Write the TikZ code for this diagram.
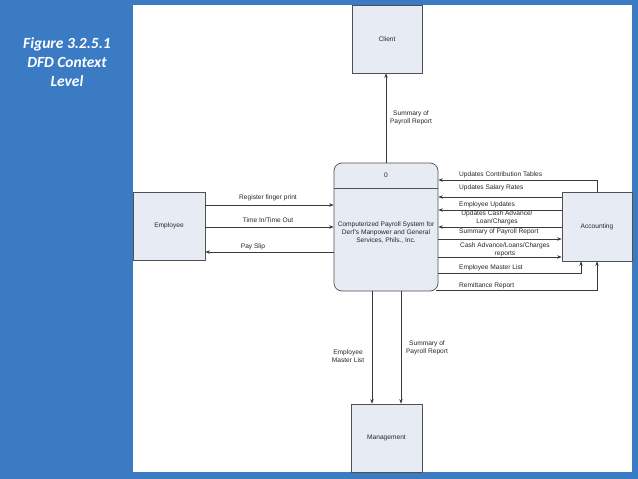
\documentclass[tikz,border=0pt]{standalone}
\usepackage{fontspec}
\setmainfont{Liberation Sans}
\newfontfamily\headfont{Carlito}
\usetikzlibrary{arrows.meta}
\definecolor{bgblue}{HTML}{3A7BC4}
\definecolor{boxfill}{HTML}{E6EBF4}
\definecolor{boxline}{HTML}{505050}
\definecolor{lineclr}{HTML}{3A3A3A}
\tikzset{
  entity/.style={draw=boxline, fill=boxfill, line width=0.7pt, inner sep=0pt},
  procbox/.style={draw=boxline, fill=boxfill, line width=0.7pt, rounded corners=8pt, inner sep=0pt},
  flow/.style={draw=lineclr, line width=0.7pt, -{Stealth[length=4.5pt,width=3.5pt]}},
  lbl/.style={font=\fontsize{6.6}{8}\selectfont, text=black!85, inner sep=0pt, align=center},
  lbll/.style={lbl, anchor=west},
  head/.style={font=\headfont\bfseries\itshape\fontsize{15.5}{19}\selectfont, text=white, align=center, inner sep=0pt}
}
\begin{document}
\begin{tikzpicture}[x=1pt,y=-1pt]
\fill[bgblue] (0,0) rectangle (638,479);
\fill[white] (133,5) rectangle (632,472);
\useasboundingbox (0,0) rectangle (638,479);

\node[head] (title) at (67,62) {Figure 3.2.5.1\\DFD Context\\Level};

% entities
\node[entity, minimum width=70pt, minimum height=68pt] (client) at (387,39) {};
\node[lbl] (clientt) at (client.center) {Client};
\node[entity, minimum width=72pt, minimum height=68pt] (emp) at (169,226) {};
\node[lbl] (empt) at (emp.center) {Employee};
\node[entity, minimum width=70pt, minimum height=69pt] (acc) at (597,226.5) {};
\node[lbl] (acct) at (acc.center) {Accounting};
\node[entity, minimum width=71pt, minimum height=68pt] (man) at (386.5,438) {};
\node[lbl] (mant) at (man.center) {Management};

% process
\node[procbox, minimum width=104pt, minimum height=128pt] (proc) at (386,227) {};
\coordinate (dl) at (334,188);
\coordinate (dr) at (438,188);
\draw[draw=boxline, line width=0.7pt] (dl) -- (dr);
\node[lbl] (pid) at (386,175) {0};
\node[lbl] (pname) at (386,233) {Computerized Payroll System for\\Derf's Manpower and General\\Services, Phils., Inc.};

% row coordinates
\coordinate (r180) at (0,180);
\coordinate (r197) at (0,197);
\coordinate (r210) at (0,210);
\coordinate (r227) at (0,227);
\coordinate (r239) at (0,239);
\coordinate (r257) at (0,257);
\coordinate (r273) at (0,273);
\coordinate (r290) at (0,290);
\coordinate (r205) at (0,205);
\coordinate (r227b) at (0,227);
\coordinate (r252) at (0,252);
\coordinate (c581) at (581,0);
\coordinate (c597) at (597,0);
\coordinate (c372) at (372,0);
\coordinate (c401) at (401,0);
\coordinate (prem) at (436,290);

% client
\draw[flow] (proc.north) -- (client.south -| proc.north);
\node[lbl] (l1) at (411,118) {Summary of\\Payroll Report};

% employee flows
\draw[flow] (emp.east |- r205) -- (proc.west |- r205);
\node[lbl] (l2) at (268,198) {Register finger print};
\draw[flow] (emp.east |- r227b) -- (proc.west |- r227b);
\node[lbl] (l3) at (268,220) {Time In/Time Out};
\draw[flow] (proc.west |- r252) -- (emp.east |- r252);
\node[lbl] (l4) at (253,246.5) {Pay Slip};

% accounting flows
\draw[flow] (acc.north -| c597) -- (c597 |- r180) -- (proc.east |- r180);
\node[lbll] (a1) at (459,175) {Updates Contribution Tables};
\draw[flow] (acc.west |- r197) -- (proc.east |- r197);
\node[lbll] (a2) at (459,188) {Updates Salary Rates};
\draw[flow] (acc.west |- r210) -- (proc.east |- r210);
\node[lbll] (a3) at (459,205) {Employee Updates};
\draw[flow] (acc.west |- r227) -- (proc.east |- r227);
\node[lbl] (a4) at (497,217.5) {Updates Cash Advance/\\Loan/Charges};
\draw[flow] (proc.east |- r239) -- (acc.west |- r239);
\node[lbll] (a5) at (459,232) {Summary of Payroll Report};
\draw[flow] (proc.east |- r257) -- (acc.west |- r257);
\node[lbl] (a6) at (505,249.5) {Cash Advance/Loans/Charges\\reports};
\draw[flow] (proc.east |- r273) -- (c581 |- r273) -- (acc.south -| c581);
\node[lbll] (a7) at (459,268) {Employee Master List};
\draw[flow] (prem) -- (c597 |- r290) -- (acc.south -| c597);
\node[lbll] (a8) at (459,285.5) {Remittance Report};

% management flows
\draw[flow] (proc.south -| c372) -- (man.north -| c372);
\draw[flow] (proc.south -| c401) -- (man.north -| c401);
\node[lbl] (m1) at (348,356) {Employee\\Master List};
\node[lbl] (m2) at (427,348) {Summary of\\Payroll Report};
\end{tikzpicture}
\end{document}
